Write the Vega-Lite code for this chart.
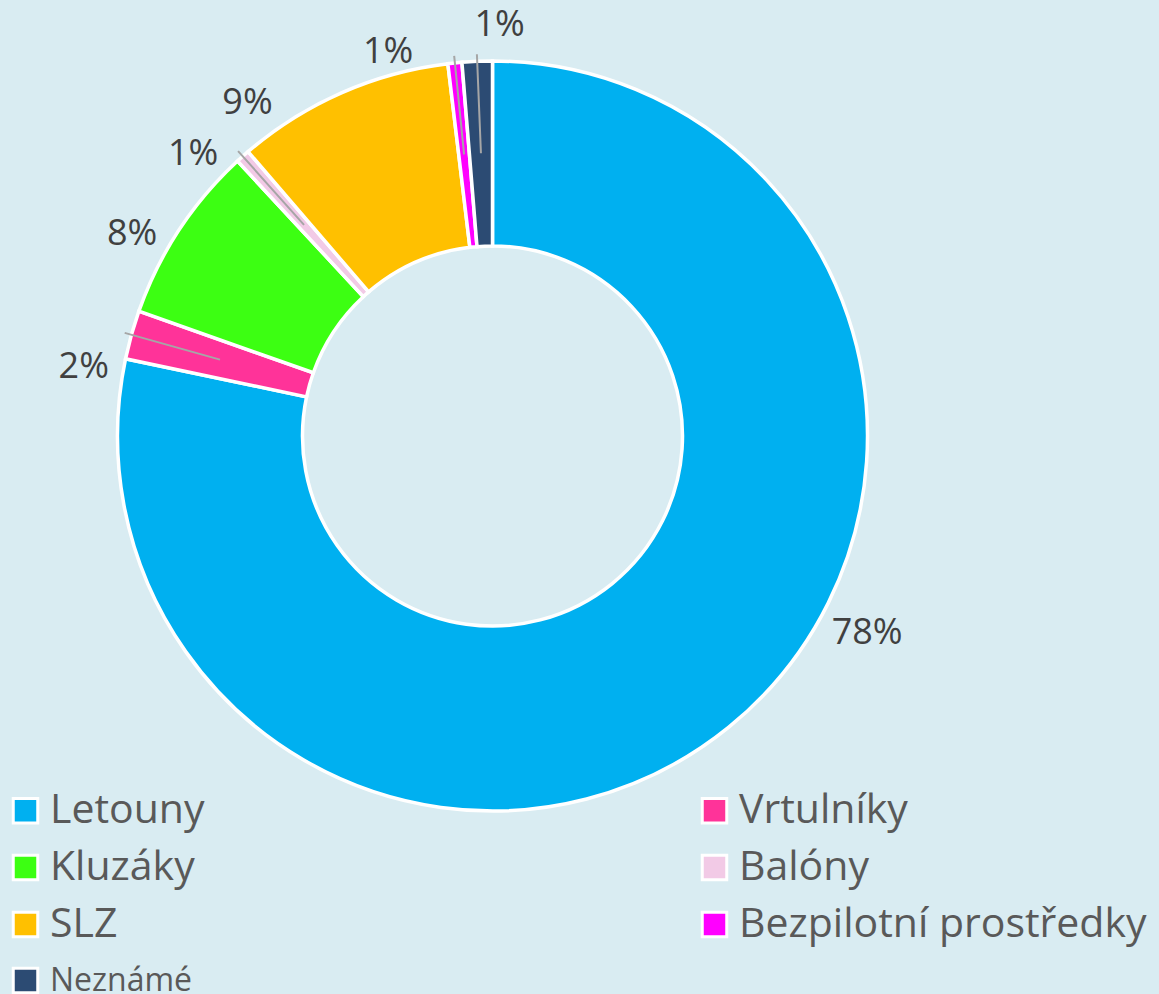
{
  "$schema": "https://vega.github.io/schema/vega-lite/v6.json",
  "width": 985,
  "height": 872,
  "autosize": {"type": "none"},
  "padding": {"left": 0, "top": 0, "right": 174, "bottom": 122},
  "background": "#d9ecf2",
  "config": {"view": {"stroke": null}},
  "data": {
    "values": [
      {"kategorie": "Letouny", "podil": 0.783, "poradi": 1},
      {"kategorie": "Vrtulníky", "podil": 0.021, "poradi": 2},
      {"kategorie": "Kluzáky", "podil": 0.077, "poradi": 3},
      {"kategorie": "Balóny", "podil": 0.006, "poradi": 4},
      {"kategorie": "SLZ", "podil": 0.094, "poradi": 5},
      {"kategorie": "Bezpilotní prostředky", "podil": 0.006, "poradi": 6},
      {"kategorie": "Neznámé", "podil": 0.013, "poradi": 7}
    ]
  },
  "layer": [
    {
      "mark": {"type": "arc", "innerRadius": 190, "outerRadius": 375, "stroke": "white", "strokeWidth": 3.5},
      "encoding": {
        "theta": {"field": "podil", "type": "quantitative", "stack": true},
        "order": {"field": "poradi", "type": "quantitative"},
        "color": {
          "field": "kategorie",
          "type": "nominal",
          "scale": {
            "domain": ["Letouny", "Vrtulníky", "Kluzáky", "Balóny", "SLZ", "Bezpilotní prostředky", "Neznámé"],
            "range": ["#00b0f0", "#ff3399", "#3cff12", "#f2cae6", "#ffc000", "#ff00ff", "#2c4b73"]
          },
          "legend": {
            "title": null,
            "orient": "none",
            "direction": "horizontal",
            "legendX": 5,
            "legendY": 790,
            "padding": 0,
            "columns": 2,
            "columnPadding": 489,
            "rowPadding": 15,
            "symbolType": "square",
            "symbolSize": 600,
            "symbolStrokeColor": "white",
            "symbolStrokeWidth": 3,
            "symbolOpacity": 1,
            "labelFont": "Open Sans",
            "labelFontSize": 41,
            "labelColor": "#595959",
            "labelOffset": 4,
            "labelLimit": 800,
            "encode": {
              "labels": {
                "update": {
                  "fontSize": {"signal": "datum.label === 'Neznámé' ? 32 : 41"}
                }
              }
            }
          }
        }
      }
    },
    {
      "mark": {"type": "arc", "innerRadius": 283, "outerRadius": 382, "padAngle": 0.4, "fill": "transparent", "stroke": "#a6a6a6", "strokeWidth": 2},
      "encoding": {
        "theta": {"field": "podil", "type": "quantitative", "stack": true},
        "order": {"field": "poradi", "type": "quantitative"},
        "detail": {"field": "kategorie", "type": "nominal"},
        "strokeOpacity": {
          "condition": {"test": "indexof(['Vrtulníky','Balóny','Bezpilotní prostředky','Neznámé'], datum.kategorie) >= 0", "value": 1},
          "value": 0
        }
      }
    },
    {
      "mark": {
        "type": "text",
        "radius": 412,
        "font": "Open Sans",
        "fontSize": 36,
        "fill": "#404040",
        "align": "center",
        "baseline": "middle",
        "dx": {"expr": "datum.kategorie === 'Letouny' ? 115 : datum.kategorie === 'Vrtulníky' ? -12 : datum.kategorie === 'Kluzáky' ? -16 : datum.kategorie === 'Balóny' ? -25 : datum.kategorie === 'SLZ' ? -79 : datum.kategorie === 'Bezpilotní prostředky' ? -63 : 24"},
        "dy": {"expr": "datum.kategorie === 'Letouny' ? -123 : datum.kategorie === 'Vrtulníky' ? 42 : datum.kategorie === 'Kluzáky' ? 24 : datum.kategorie === 'Balóny' ? 25 : datum.kategorie === 'SLZ' ? 44 : datum.kategorie === 'Bezpilotní prostředky' ? 26 : 1"}
      },
      "encoding": {
        "theta": {"field": "podil", "type": "quantitative", "stack": true},
        "order": {"field": "poradi", "type": "quantitative"},
        "detail": {"field": "kategorie", "type": "nominal"},
        "text": {"field": "podil", "type": "quantitative", "format": ".0%"}
      }
    }
  ]
}
